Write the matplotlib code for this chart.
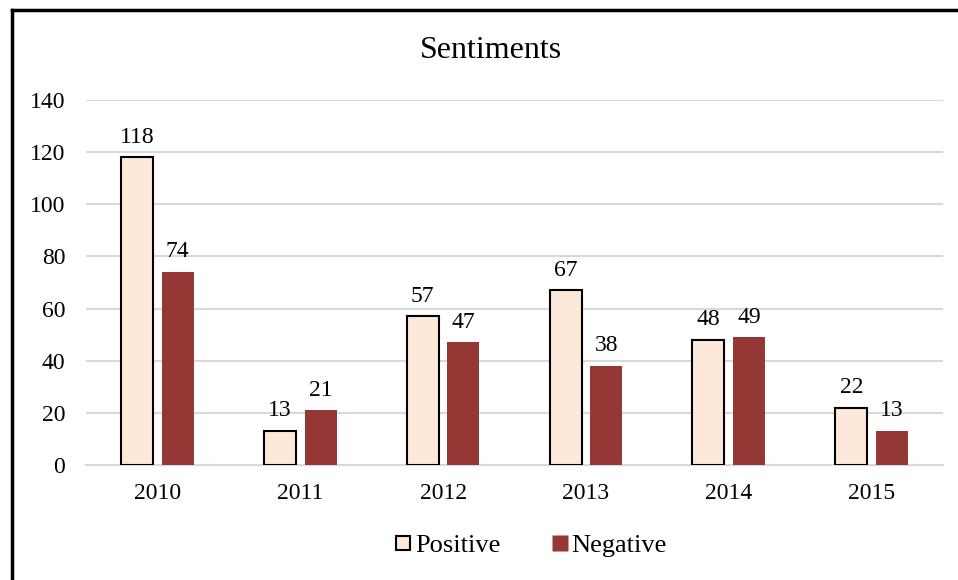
import matplotlib
matplotlib.use("Agg")
import matplotlib.pyplot as plt
import numpy as np
from matplotlib.lines import Line2D

years = ["2010", "2011", "2012", "2013", "2014", "2015"]
positive = [118, 13, 57, 67, 48, 22]
negative = [74, 21, 47, 38, 49, 13]
yticks = [0, 20, 40, 60, 80, 100, 120, 140]

plt.rcParams['font.family'] = ['Liberation Serif', 'DejaVu Serif']

fig = plt.figure(figsize=(9.58, 5.8), dpi=100)
ax = fig.add_axes([86/958, 1-465/580, (943-86)/958, (465-100)/580])

x = np.arange(len(years))
w = 0.224
off = 0.142
pos_c = '#FDE9D9'
neg_c = '#953735'
ax.bar(x - off, positive, w, color=pos_c, edgecolor='black', linewidth=1.5, zorder=3)
ax.bar(x + off, negative, w, color=neg_c, edgecolor='none', zorder=3)

fs = 17
for xi, v in zip(x - off, positive):
    ax.annotate(str(v), (xi, v), xytext=(0, 7), textcoords='offset points',
                ha='center', va='bottom', fontsize=fs)
for xi, v in zip(x + off, negative):
    ax.annotate(str(v), (xi, v), xytext=(0, 7), textcoords='offset points',
                ha='center', va='bottom', fontsize=fs)

ax.set_xlim(-0.5, len(years) - 0.5)
ax.set_ylim(0, 140)
ax.set_yticks(yticks)
ax.set_xticks(x)
ax.set_xticklabels(years)
ax.tick_params(axis='both', length=0, labelsize=fs)
ax.tick_params(axis='x', pad=13)
ax.tick_params(axis='y', pad=15)
ax.grid(axis='y', color='#D9D9D9', linewidth=1.5, zorder=0)
for s in ['top', 'right', 'left']:
    ax.spines[s].set_visible(False)
ax.spines['bottom'].set_color('#D9D9D9')
ax.spines['bottom'].set_linewidth(1.5)

fig.text(491/958, 1-50/580, 'Sentiments', ha='center', va='center', fontsize=23)

handles = [
    Line2D([], [], marker='s', linestyle='none', markersize=10.5, markerfacecolor=pos_c,
           markeredgecolor='black', markeredgewidth=1.5),
    Line2D([], [], marker='s', linestyle='none', markersize=11, markerfacecolor=neg_c,
           markeredgecolor='none'),
]
fig.legend(handles, ['Positive', 'Negative'], loc='center', bbox_to_anchor=(529/958, 1-545/580),
           ncol=2, frameon=False, fontsize=19, handletextpad=0.0, columnspacing=1.8,
           handlelength=0.9)

# outer border (top and left only visible)
fig.add_artist(Line2D([11.5/958, 1], [1-9.5/580, 1-9.5/580], color='black', linewidth=2.5,
                      transform=fig.transFigure))
fig.add_artist(Line2D([11.5/958, 11.5/958], [0, 1-9.5/580], color='black', linewidth=2.5,
                      transform=fig.transFigure))

fig.savefig('out.png', dpi=100, facecolor='white')
